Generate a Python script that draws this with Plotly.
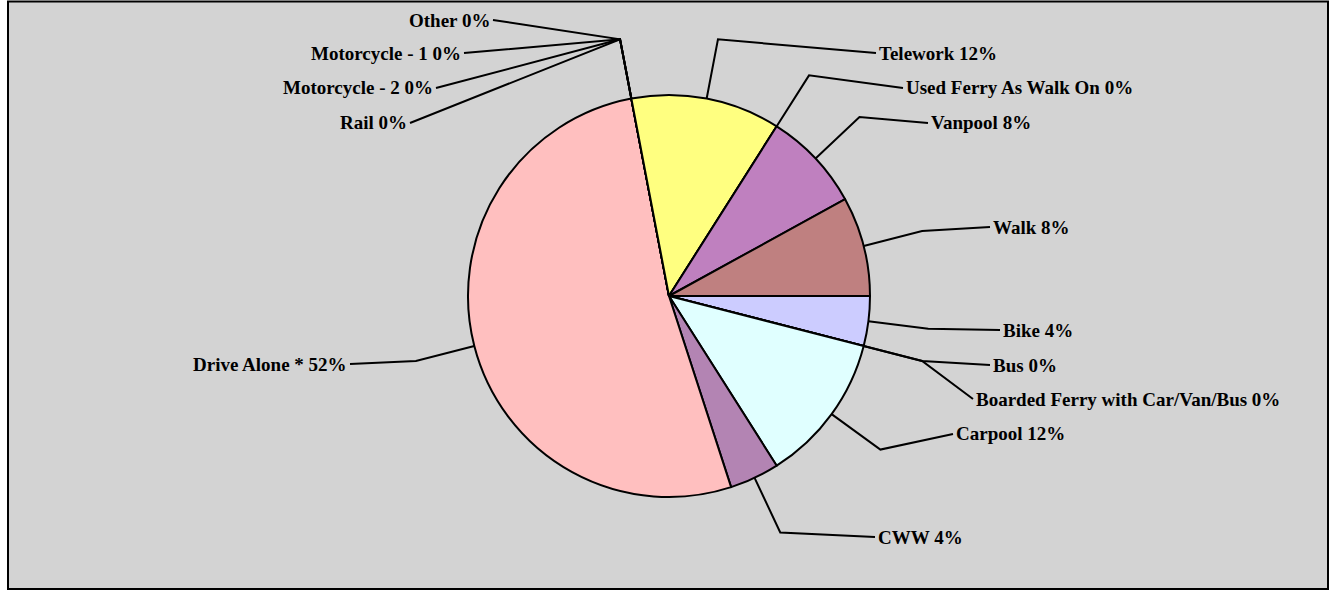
import math
import plotly.graph_objects as go

# ---- data (respondent counts, shown as percentages) ----
categories = ["Bike", "Bus", "Boarded Ferry with Car/Van/Bus", "Carpool", "CWW",
              "Drive Alone *", "Rail", "Motorcycle - 2", "Motorcycle - 1", "Other",
              "Telework", "Used Ferry As Walk On", "Vanpool", "Walk"]
counts = [1, 0, 0, 3, 1, 13, 0, 0, 0, 0, 3, 0, 2, 2]
colors = ["#CCCCFF", "#CCCCFF", "#CCCCFF", "#E0FFFF", "#B384B3",
          "#FFBFBF", "#FFBFBF", "#FFBFBF", "#FFBFBF", "#FFBFBF",
          "#FFFF80", "#FFFF80", "#BF80BF", "#BF8080"]

# ---- layout (pixels) ----
W, H = 1329, 590
CX, CY, R = 669, 296, 201
ELBOW = 1.3
# label anchor (end of leader line) in pixels
label_anchor = [(1000, 330), (990, 365), (973, 399), (953, 434), (875, 537),
                (350, 364), (410, 123), (436, 88), (464, 53), (493, 20),
                (876, 53), (903, 88), (928, 123), (990, 227)]

def px(x):
    return x / W

def py(y):
    return 1 - y / H

total = sum(counts)

fig = go.Figure()
fig.add_trace(go.Pie(
    labels=categories, values=counts, sort=False, direction="clockwise",
    rotation=90, textinfo="none", hoverinfo="label+percent",
    marker=dict(colors=colors, line=dict(color="black", width=2)),
    domain=dict(x=[px(CX - R), px(CX + R)], y=[py(CY + R), py(CY - R)]),
    showlegend=False,
))

shapes = [dict(type="rect", xref="paper", yref="paper",
               x0=px(8), x1=px(1328), y0=py(589), y1=py(1.5),
               fillcolor="#D3D3D3", line=dict(color="black", width=2), layer="below")]
annotations = []
cum = 0
for name, v, (ax, ay) in zip(categories, counts, label_anchor):
    mid = (cum + v / 2) / total * 2 * math.pi
    cum += v
    ex, ey = CX + R * math.cos(mid), CY + R * math.sin(mid)
    bx, by = CX + R * ELBOW * math.cos(mid), CY + R * ELBOW * math.sin(mid)
    path = f"M {px(ex)},{py(ey)} L {px(bx)},{py(by)} L {px(ax)},{py(ay)}"
    shapes.append(dict(type="path", xref="paper", yref="paper", path=path,
                       line=dict(color="black", width=2), layer="above"))
    left = ax < CX
    pct = round(v / total * 100)
    annotations.append(dict(
        x=px(ax), y=py(ay), xref="paper", yref="paper", showarrow=False,
        text=f"{name} {pct}%", xanchor="right" if left else "left", yanchor="middle",
        xshift=-1 if left else 1,
        font=dict(family="Liberation Serif", size=19, color="black", weight="bold"),
    ))

fig.update_layout(
    width=W, height=H, margin=dict(l=0, r=0, t=0, b=0),
    paper_bgcolor="white", shapes=shapes, annotations=annotations,
)
fig.write_html("out.html", config={"displayModeBar": False},
               post_script="document.body.style.margin='0';document.body.style.overflow='hidden';")
